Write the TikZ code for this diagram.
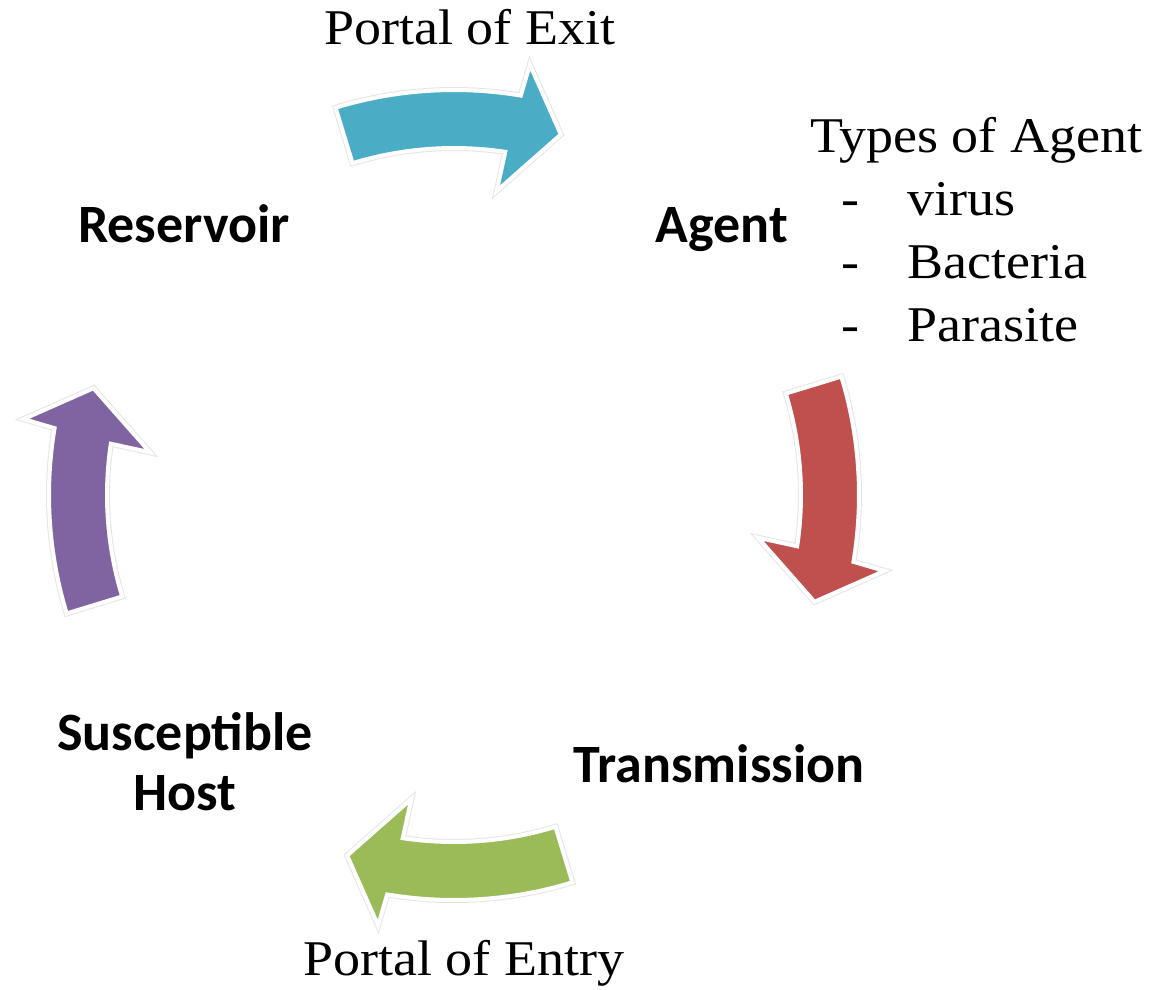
\documentclass[tikz,border=0pt]{standalone}
\usepackage{fontspec}
\setmainfont{Liberation Serif}[FakeStretch=1.08]
\newfontfamily\cyclefont{Carlito}
\usepackage{xcolor}
\definecolor{CycBlue}{HTML}{4BACC6}
\definecolor{CycRed}{HTML}{C0504D}
\definecolor{CycGreen}{HTML}{9BBB59}
\definecolor{CycPurple}{HTML}{8064A2}
\usepackage{tikz}
\usetikzlibrary{positioning}

\begin{document}
\begin{tikzpicture}[
        x=1pt, y=1pt,
        % Styles
        stage/.style={font=\cyclefont\bfseries\fontsize{54}{60}\selectfont, align=center, inner sep=0pt},
        note/.style={font=\fontsize{50}{63}\selectfont, inner sep=0pt},
        arrowpiece/.style={draw=white, line width=4pt, line join=miter,
            preaction={draw=black!10, line width=6pt}}
    ]
    \useasboundingbox (0,0) rectangle (1156,-989);

    % 1. THE CYCLE ARROWS (curved, clockwise round the middle)
    \begin{scope}[shift={(454,-495)}]
        \foreach \ang/\col in {90/CycBlue, 0/CycRed, -90/CycGreen, 180/CycPurple} {
            \fill[arrowpiece, fill=\col]
                ({\ang+17}:405) arc[start angle={\ang+17}, end angle={\ang-9.5}, radius=405]
                -- ({\ang-10}:437) -- ({\ang-16.5}:376) -- ({\ang-8}:307) -- ({\ang-8.5}:347)
                arc[start angle={\ang-8.5}, end angle={\ang+17}, radius=347] -- cycle;
        }
    \end{scope}

    % 2. STAGES
    \node[stage, anchor=base] (reservoir) at (184,-242) {Reservoir};
    \node[stage, anchor=base] (agent) at (722,-242) {Agent};
    \node[stage, anchor=base] (transmission) at (719,-782) {Transmission};
    \node[stage, anchor=base] (host) at (185,-810) {Susceptible\\Host};

    % 3. PORTALS
    \node[note, anchor=base] (exit) at (470,-44) {Portal of Exit};
    \node[note, anchor=base] (entry) at (464,-975) {Portal of Entry};

    % 4. TYPES OF AGENT
    \node[note, anchor=base west] (types) at (810,-152) {Types of Agent};
    \foreach \kind [count=\i] in {virus, Bacteria, Parasite} {
        \node[note, anchor=base] (dash\i) at (850,{-152-63*\i}) {-};
        \node[note, anchor=base west] (kind\i) at (907,{-152-63*\i}) {\kind};
    }
\end{tikzpicture}
\end{document}
